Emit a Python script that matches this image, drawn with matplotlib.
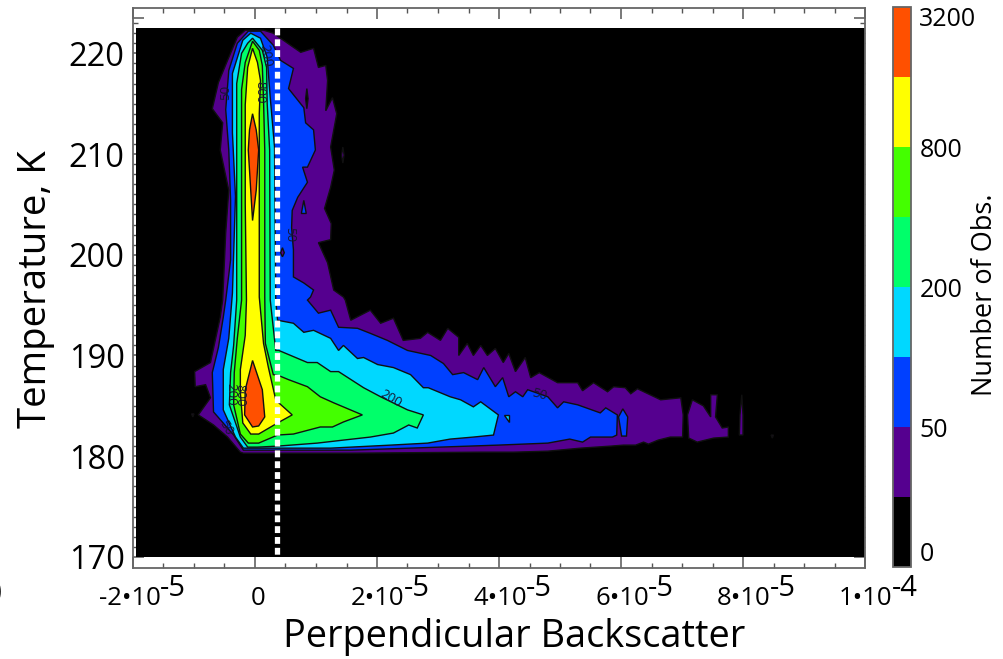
import matplotlib
matplotlib.use('Agg')
import numpy as np
import matplotlib.pyplot as plt
from matplotlib.colors import ListedColormap, BoundaryNorm
from matplotlib.cm import ScalarMappable
from matplotlib.patches import Rectangle

plt.rcParams['font.family'] = ['Open Sans', 'DejaVu Sans']

# contour levels (number of obs.) and fill colours
levels = [0, 25, 50, 100, 200, 400, 800, 1600, 3200]
level_colors = ['#000000', '#55008f', '#0040ff', '#00d8ff', '#00ff6a', '#44ff00', '#ffff00', '#ff5000']
cbar_ticks = [0, 50, 200, 800, 3200]

xtick_vals = [-2, 2, 4, 6, 8, 10]
xtick_base = ['-2•10', '2•10', '4•10', '6•10', '8•10', '1•10']
xtick_exp = ['-5', '-5', '-5', '-5', '-5', '-4']
ytick_vals = [170, 180, 190, 200, 210, 220]

# contour outlines: x in units of 1e-5, T in K
# level 25
c25_x = [-0.16, 0.14, 0.30, 0.63, 0.75, 0.96, 1.04, 1.16, 1.19, 1.16, 1.27, 1.34, 1.24, 1.30, 1.24, 1.14, 1.25, 1.24, 1.04, 1.19,
         1.29, 1.45, 1.48, 1.57, 1.89, 2.06, 2.27, 2.43, 2.71, 2.83, 3.04, 3.16, 3.34, 3.34, 3.48, 3.58, 3.70, 3.81, 3.94, 4.07,
         4.16, 4.27, 4.43, 4.52, 4.66, 4.96, 5.29, 5.37, 5.55, 5.78, 5.88, 6.07, 6.16, 6.27, 6.65, 6.98, 7.02, 7.01, 6.81, 6.61,
         6.45, 6.37, 6.24, 6.04, 5.83, 5.34, 4.80, 4.24, 3.70, 1.57, -0.19, -0.24, -0.45, -0.68, -0.93, -0.73, -0.81, -0.98, -0.99, -0.73,
         -0.57, -0.53, -0.48, -0.43, -0.57, -0.53, -0.70, -0.60, -0.45, -0.29]
c25_T = [222.3, 222.3, 222.0, 220.6, 220.1, 220.5, 218.6, 218.8, 217.3, 214.3, 215.6, 214.0, 210.7, 208.4, 206.7, 204.6, 203.1, 201.5, 201.2, 199.2,
         196.5, 195.8, 195.5, 193.5, 194.5, 193.2, 193.7, 191.5, 191.7, 192.3, 191.5, 192.7, 191.8, 190.0, 191.2, 190.0, 191.0, 190.0, 190.7, 189.3,
         190.2, 188.4, 189.8, 187.8, 188.3, 187.3, 187.3, 186.5, 187.3, 186.4, 186.9, 186.8, 186.2, 186.7, 185.6, 185.8, 184.1, 181.9, 181.9, 181.6,
         181.2, 181.4, 181.1, 181.1, 181.0, 180.8, 180.5, 180.4, 180.4, 180.3, 180.3, 180.4, 181.9, 183.1, 184.1, 185.8, 187.1, 186.9, 188.4, 189.3,
         193.8, 195.5, 202.2, 206.4, 210.4, 213.1, 214.5, 217.1, 219.3, 221.6]
c25b_x = [7.09, 7.17, 7.35, 7.47, 7.47, 7.58, 7.55, 7.66, 7.76, 7.76, 7.52, 7.25, 7.11]
c25b_T = [184.1, 185.6, 185.0, 183.9, 186.1, 186.1, 183.9, 182.8, 182.9, 181.9, 181.8, 181.4, 181.8]
c25c_x = [7.98, 8.00, 8.00, 7.94, 7.95]
c25c_T = [186.1, 184.1, 182.1, 182.1, 184.1]
c25d_x = [1.44, 1.46, 1.44, 1.42]
c25d_T = [210.7, 209.9, 209.1, 209.9]
c25e_x = [-1.04, -1.00, -1.02]
c25e_T = [184.2, 184.2, 183.9]
c25f_x = [8.46, 8.50, 8.48]
c25f_T = [182.1, 182.1, 181.8]

# level 50
c50_x = [-0.11, 0.09, 0.30, 0.42, 0.63, 0.55, 0.80, 0.83, 0.96, 0.99, 0.86, 0.78, 0.86, 0.70, 0.61, 0.60, 0.63, 0.63, 0.80, 0.96,
         0.91, 0.86, 1.04, 1.24, 1.37, 1.68, 1.89, 2.17, 2.50, 2.88, 3.09, 3.24, 3.42, 3.65, 3.75, 3.94, 4.06, 4.16, 4.27, 4.39,
         4.47, 4.80, 4.96, 5.06, 5.29, 5.66, 5.75, 5.94, 5.93, 5.86, 5.50, 5.37, 5.16, 4.80, 3.98, 1.57, -0.19, -0.35, -0.68, -0.70,
         -0.60, -0.52, -0.48, -0.40, -0.40, -0.43, -0.48, -0.43, -0.29]
c50_T = [222.2, 222.2, 220.8, 219.3, 218.5, 216.5, 214.6, 213.1, 212.4, 210.4, 208.7, 208.7, 207.2, 205.7, 204.4, 202.7, 200.5, 197.8, 197.2, 196.5,
         195.8, 195.5, 194.2, 194.5, 192.8, 192.7, 192.2, 191.5, 190.5, 190.0, 189.2, 188.1, 188.3, 187.6, 188.8, 186.9, 187.8, 185.9, 186.4, 185.9,
         186.6, 185.9, 184.8, 185.4, 185.1, 184.3, 184.8, 184.1, 182.1, 181.9, 181.9, 181.4, 181.7, 181.3, 181.1, 180.6, 180.6, 182.1, 184.4, 188.3,
         190.8, 193.8, 195.5, 199.5, 205.4, 210.4, 214.4, 218.3, 221.0]
c50b_x = [6.03, 6.11, 6.09, 6.01, 5.96]
c50b_T = [184.7, 183.9, 182.0, 182.0, 183.9]
c50c_x = [0.80, 0.84, 0.81, 0.76]
c50c_T = [205.4, 204.1, 204.1, 204.1]

# holes in the two lowest levels
hole25_x = [0.85, 0.87, 0.85, 0.83]
hole25_T = [216.5, 215.5, 214.5, 215.5]
hole50_x = [0.45, 0.48, 0.45, 0.42]
hole50_T = [200.7, 200.2, 199.8, 200.2]

# level 100
c100_x = [-0.07, 0.09, 0.20, 0.25, 0.32, 0.34, 0.37, 0.63, 0.80, 0.96, 1.24, 1.37, 1.45, 1.68, 1.78, 2.01, 2.27, 2.55, 2.76, 2.84,
          3.20, 3.37, 3.58, 3.70, 3.99, 3.91, 3.58, 3.20, 2.83, 2.22, 1.24, -0.19, -0.32, -0.52, -0.52, -0.43, -0.37, -0.32, -0.37, -0.37,
          -0.20]
c100_T = [222.0, 221.5, 219.6, 215.6, 210.7, 195.5, 193.5, 193.2, 192.3, 192.5, 191.7, 190.5, 191.0, 189.7, 189.8, 189.1, 188.8, 188.1, 186.8, 186.8,
          185.9, 185.6, 184.9, 185.4, 184.1, 182.1, 181.9, 181.7, 181.3, 181.1, 180.8, 180.8, 181.9, 184.6, 188.6, 191.7, 196.2, 205.8, 212.1, 218.0,
          221.3]
c100b_x = [4.09, 4.17, 4.17]
c100b_T = [184.1, 184.1, 183.4]

# level 200
c200_x = [-0.04, 0.12, 0.19, 0.20, 0.24, 0.25, 0.34, 0.39, 0.86, 1.02, 1.24, 1.37, 1.78, 2.06, 2.50, 2.76, 2.66, 2.52, 2.27, 1.89,
          1.45, 1.02, 0.37, 0.04, -0.12, -0.24, -0.42, -0.40, -0.35, -0.30, -0.30, -0.30, -0.22, -0.12]
c200_T = [221.5, 220.3, 218.6, 215.0, 210.4, 195.5, 190.5, 190.5, 189.3, 189.3, 188.4, 188.4, 186.8, 185.9, 184.6, 184.1, 182.8, 183.1, 182.3, 181.9,
          181.6, 181.3, 181.0, 180.9, 180.9, 181.9, 185.1, 188.3, 191.0, 195.5, 208.6, 217.0, 220.0, 221.0]

# level 400
c400_x = [-0.04, 0.07, 0.12, 0.14, 0.16, 0.16, 0.17, 0.30, 0.39, 0.55, 0.86, 1.07, 1.29, 1.76, 1.45, 1.27, 1.07, 0.63, 0.37, 0.06,
          -0.11, -0.24, -0.35, -0.34, -0.29, -0.22, -0.22, -0.22, -0.16]
c400_T = [221.2, 220.3, 218.8, 215.3, 210.4, 195.8, 191.2, 188.1, 188.0, 187.6, 186.9, 185.9, 185.3, 184.1, 183.4, 182.9, 182.9, 182.2, 182.1, 181.3,
          181.3, 182.2, 185.1, 188.3, 191.7, 195.5, 210.4, 216.4, 219.1]

# level 800
c800_x = [-0.04, 0.04, 0.09, 0.07, 0.07, 0.07, 0.14, 0.22, 0.34, 0.39, 0.61, 0.37, 0.06, -0.07, -0.20, -0.24, -0.24, -0.16, -0.14, -0.16,
          -0.16, -0.12]
c800_T = [220.5, 219.1, 217.3, 214.0, 208.7, 195.8, 191.2, 188.8, 185.6, 185.3, 184.1, 183.3, 182.2, 182.2, 183.3, 186.3, 188.6, 192.0, 195.5, 205.1,
          214.9, 218.6]

# level 1600, two separate maxima
c1600a_x = [-0.04, 0.02, 0.06, 0.02, -0.04, -0.07, -0.11, -0.09]
c1600a_T = [214.0, 212.4, 210.4, 206.4, 203.4, 206.4, 210.4, 212.4]
c1600b_x = [-0.04, 0.12, 0.16, 0.06, -0.04, -0.17, -0.16]
c1600b_T = [189.5, 186.6, 183.9, 183.0, 182.9, 184.1, 186.6]

# contour labels
label_text = ['50', '800', '200', '200', '800', '50', '50', '200', '50']
label_x = [-0.48, 0.08, 0.17, -0.40, -0.25, -0.48, 0.57, 2.23, 4.66]
label_T = [216.1, 216.1, 219.8, 186.1, 186.1, 182.8, 202.0, 185.7, 186.1]
label_rot = [90, -90, -80, -90, -90, -60, -90, -30, -15]

dash_x = 0.36


def contour_fill(ax, xs, Ts, color):
    ax.fill(np.array(xs) * 1e-5, Ts, facecolor=color, edgecolor='#101010', linewidth=1.0, zorder=2, joinstyle='miter')


fig = plt.figure(figsize=(10.04, 6.59), dpi=100)
ax = fig.add_axes([133 / 1004, 1 - 568 / 659, 732 / 1004, 560 / 659])
ax.set_axisbelow(True)

ax.add_patch(Rectangle((-1.95e-5, 170), 11.95e-5, 52.5, facecolor='black', edgecolor='none', zorder=1))

for xs, Ts in [(c25_x, c25_T), (c25b_x, c25b_T), (c25c_x, c25c_T), (c25d_x, c25d_T), (c25e_x, c25e_T), (c25f_x, c25f_T)]:
    contour_fill(ax, xs, Ts, level_colors[1])
contour_fill(ax, hole25_x, hole25_T, level_colors[0])
for xs, Ts in [(c50_x, c50_T), (c50b_x, c50b_T), (c50c_x, c50c_T)]:
    contour_fill(ax, xs, Ts, level_colors[2])
contour_fill(ax, hole50_x, hole50_T, level_colors[1])
for xs, Ts in [(c100_x, c100_T), (c100b_x, c100b_T)]:
    contour_fill(ax, xs, Ts, level_colors[3])
contour_fill(ax, c200_x, c200_T, level_colors[4])
contour_fill(ax, c400_x, c400_T, level_colors[5])
contour_fill(ax, c800_x, c800_T, level_colors[6])
contour_fill(ax, c1600a_x, c1600a_T, level_colors[7])
contour_fill(ax, c1600b_x, c1600b_T, level_colors[7])

for s, x, T, r in zip(label_text, label_x, label_T, label_rot):
    ax.text(x * 1e-5, T, s, rotation=r, ha='center', va='center', fontsize=9.5, color='#151530', zorder=3)

# threshold line
ax.plot([dash_x * 1e-5, dash_x * 1e-5], [222.5, 168.7], color='white', lw=3.8, zorder=5, clip_on=False,
        linestyle=(0, (1.3, 0.75)), dash_capstyle='butt')

ax.set_xlim(-2e-5, 1e-4)
ax.set_ylim(168.9, 224.5)

ax.set_xticks(np.arange(-2, 11, 2) * 1e-5)
ax.set_xticks(np.arange(-2, 10.5, 0.5) * 1e-5, minor=True)
ax.set_xticklabels([])
ax.set_yticks(ytick_vals + [223.5])
ax.set_yticklabels([str(v) for v in ytick_vals] + [''])
ax.set_yticks(np.arange(170, 224, 1), minor=True)
ax.tick_params(axis='x', which='major', direction='in', top=True, length=8, width=1.1, color='#555555')
ax.tick_params(axis='x', which='minor', direction='in', top=True, length=3.6, width=1.0, color='#555555')
ax.tick_params(axis='y', which='major', direction='in', right=True, length=8, width=1.1, color='#555555',
               labelsize=23.5, pad=6)
ax.tick_params(axis='y', which='minor', direction='in', right=True, length=3.6, width=1.0, color='#555555')
for sp in ax.spines.values():
    sp.set_color('#666666')
    sp.set_linewidth(1.3)

# x tick labels, exponent is as big as the base
for v, b, e in zip(xtick_vals, xtick_base, xtick_exp):
    ax.annotate(b, xy=(v * 1e-5, 0), xycoords=('data', 'axes fraction'), xytext=(20, -22), textcoords='offset points',
                ha='right', va='center', fontsize=18.5, annotation_clip=False)
    ax.annotate(e, xy=(v * 1e-5, 0), xycoords=('data', 'axes fraction'), xytext=(19.5, -14.5), textcoords='offset points',
                ha='left', va='center', fontsize=21, annotation_clip=False)
ax.annotate('0', xy=(0, 0), xycoords=('data', 'axes fraction'), xytext=(2, -22), textcoords='offset points',
            ha='center', va='center', fontsize=18.5, annotation_clip=False)

fig.text(514 / 1004, 1 - 637 / 659, 'Perpendicular Backscatter', ha='center', va='center', fontsize=27.3)
fig.text(36 / 1004, 1 - 289 / 659, 'Temperature, K', rotation=90, ha='center', va='center', fontsize=27.6)

# colorbar
cax = fig.add_axes([893 / 1004, 1 - 567 / 659, 18 / 1004, 560 / 659])
norm = BoundaryNorm(levels, len(level_colors))
cb = fig.colorbar(ScalarMappable(norm=norm, cmap=ListedColormap(level_colors)), cax=cax, spacing='uniform', ticks=cbar_ticks)
cb.ax.minorticks_off()
cb.ax.tick_params(length=0, labelsize=18, pad=6)
cb.outline.set_edgecolor('#666666')
cb.outline.set_linewidth(1.3)
ylabels = cb.ax.get_yticklabels()
ylabels[0].set_va('bottom')
ylabels[-1].set_va('top')
fig.text(985 / 1004, 1 - 295 / 659, 'Number of Obs.', rotation=90, ha='center', va='center', fontsize=19.5)

# bit of the neighbouring panel's label, cut by the left edge
fig.text(-8 / 1004, 1 - 592 / 659, ')', ha='left', va='center', fontsize=22)

fig.savefig('out.png', dpi=100)
